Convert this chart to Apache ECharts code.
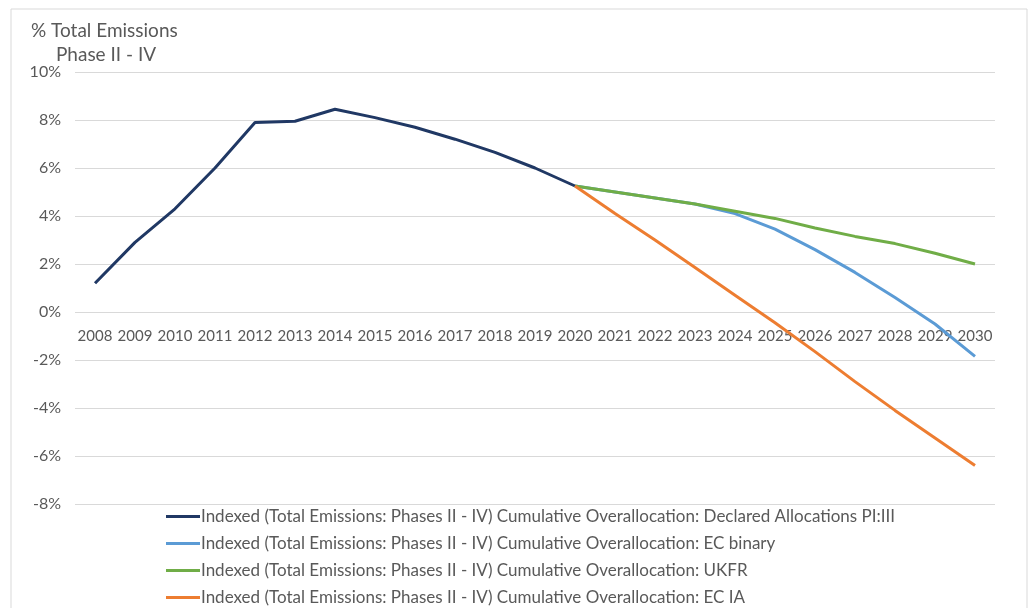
<!DOCTYPE html>
<html>
<head>
<meta charset="utf-8">
<script src="https://cdn.jsdelivr.net/npm/echarts@6/dist/echarts.min.js"></script>
<style>
  html, body { margin: 0; padding: 0; background: #fff; }
  #box { width: 1030px; height: 608px; }
</style>
</head>
<body>
<div id="box"></div>
<script>
// years on the category axis
const years = ["2008", "2009", "2010", "2011", "2012", "2013", "2014", "2015", "2016", "2017", "2018", "2019",
  "2020", "2021", "2022", "2023", "2024", "2025", "2026", "2027", "2028", "2029", "2030"];

// values in %
const declared = [1.2, 2.9, 4.3, 6.0, 7.9, 7.95, 8.45, 8.1, 7.7, 7.2, 6.65, 6.0, 5.25,
  null, null, null, null, null, null, null, null, null, null];
const ecBinary = [null, null, null, null, null, null, null, null, null, null, null, null, 5.25,
  5.0, 4.75, 4.5, 4.1, 3.45, 2.6, 1.65, 0.6, -0.5, -1.85];
const ukfr = [null, null, null, null, null, null, null, null, null, null, null, null, 5.25,
  5.0, 4.75, 4.5, 4.2, 3.9, 3.5, 3.15, 2.85, 2.45, 2.0];
const ecIA = [null, null, null, null, null, null, null, null, null, null, null, null, 5.25,
  4.1, 3.0, 1.85, 0.7, -0.45, -1.65, -2.9, -4.1, -5.25, -6.4];

const names = [
  "Indexed (Total Emissions: Phases II - IV) Cumulative Overallocation: Declared Allocations PI:III",
  "Indexed (Total Emissions: Phases II - IV) Cumulative Overallocation: EC binary",
  "Indexed (Total Emissions: Phases II - IV) Cumulative Overallocation: UKFR",
  "Indexed (Total Emissions: Phases II - IV) Cumulative Overallocation: EC IA"
];
const colors = ["#203864", "#5b9bd5", "#70ad47", "#ed7d31"];

const font = "Lato, 'Liberation Sans', sans-serif";
const myChart = echarts.init(document.getElementById("box"));

function line(name, data, color) {
  return {
    name: name,
    type: "line",
    data: data,
    color: color,
    symbol: "none",
    lineStyle: { width: 3, color: color },
    z: 3
  };
}

const option = {
  animation: false,
  textStyle: { fontFamily: font },
  graphic: [
    {
      type: "rect",
      shape: { x: 11, y: 9, width: 1016, height: 610 },
      style: { fill: "none", stroke: "#d9d9d9", lineWidth: 1 },
      silent: true
    },
    {
      type: "text",
      left: 31,
      top: 21,
      style: { text: "% Total Emissions", font: "19px " + font, fill: "#595959" }
    },
    {
      type: "text",
      left: 56,
      top: 45,
      style: { text: "Phase II - IV", font: "19px " + font, fill: "#595959" }
    }
  ],
  grid: { left: 75, right: 35, top: 72, bottom: 104, containLabel: false },
  legend: {
    orient: "vertical",
    left: 161,
    top: 503,
    height: 130,
    itemGap: 10,
    itemWidth: 34,
    itemHeight: 18,
    icon: "path://M0,8 L34,8 L34,11 L0,11 Z",
    textStyle: { fontSize: 17, color: "#595959", fontFamily: font, padding: [0, 0, 0, -4] },
    data: names
  },
  xAxis: {
    type: "category",
    data: years,
    boundaryGap: true,
    position: "bottom",
    offset: -192,
    axisLine: { show: false, onZero: false },
    axisTick: { show: false },
    axisLabel: { color: "#595959", fontSize: 15, margin: 17, interval: 0 }
  },
  yAxis: {
    type: "value",
    min: -8,
    max: 10,
    interval: 2,
    axisLine: { show: false },
    axisTick: { show: false },
    axisLabel: { color: "#595959", fontSize: 16, margin: 14, formatter: "{value}%" },
    splitLine: { lineStyle: { color: "#d9d9d9", width: 1 } }
  },
  series: [
    line(names[0], declared, colors[0]),
    line(names[1], ecBinary, colors[1]),
    line(names[2], ukfr, colors[2]),
    line(names[3], ecIA, colors[3])
  ]
};
myChart.setOption(option);
</script>
</body>
</html>
